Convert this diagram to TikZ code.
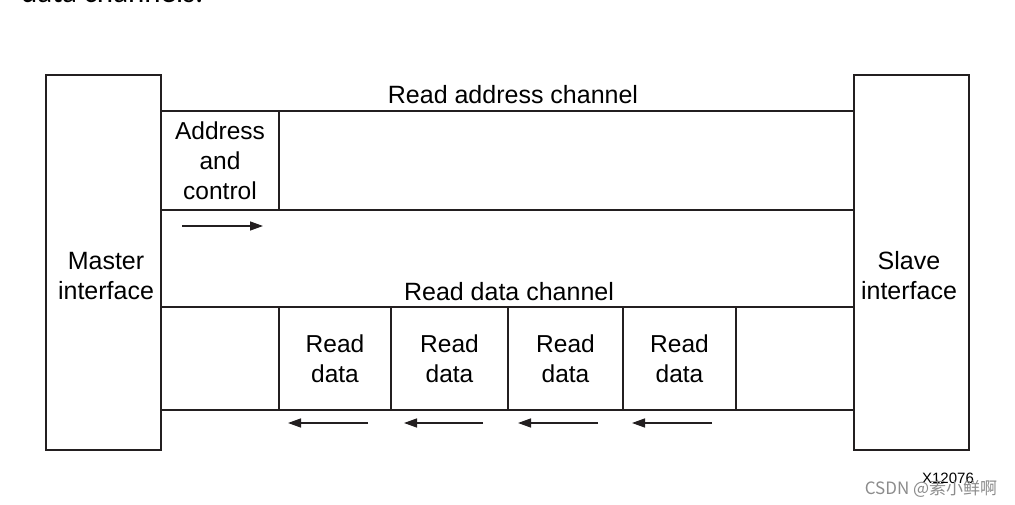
\documentclass[tikz,border=0pt]{standalone}
\usepackage{fontspec}
\setmainfont{Liberation Sans}
\newfontfamily\bodyfont{Carlito}
\newfontfamily\cjkfont{Noto Sans CJK SC}
\usetikzlibrary{arrows.meta}
\definecolor{ink}{HTML}{231F20}
\tikzset{
  frame/.style={draw=ink, line width=2.8pt, inner sep=0pt, outer sep=0pt},
  iface/.style={frame, fill=white, minimum width=115pt, minimum height=375pt},
  ifacetext/.style={align=center, inner sep=0pt, font=\fontsize{25}{30}\selectfont},
  celltext/.style={align=center, inner sep=0pt, font=\fontsize{24.5}{30}\selectfont},
  chline/.style={draw=ink, line width=2.8pt},
  flow/.style={draw=ink, line width=1.4pt, -{Stealth[length=13pt,width=9pt,inset=0pt]}},
  chlabel/.style={font=\fontsize{25}{30}\selectfont, inner sep=0pt, anchor=base}
}
\begin{document}
\begin{tikzpicture}[x=1pt,y=-1pt]
\useasboundingbox[fill=white] (0,0) rectangle (1015,505);
% cut-off line of body text at top
\node[font=\bodyfont\fontsize{31}{36}\selectfont, anchor=base west, inner sep=0pt] (toptext) at (21,3) {data channels.};
% channel lines
\draw[chline] (161,111) -- (854,111);
\draw[chline] (161,210) -- (854,210);
\draw[chline] (161,307) -- (854,307);
\draw[chline] (161,410) -- (854,410);
% cell dividers
\draw[chline] (279,111) -- (279,210);
\foreach \x in {279,391,508,623,736} \draw[chline] (\x,307) -- (\x,410);
% interfaces
\node[iface] (master) at (103.5,262.5) {};
\node[ifacetext] (mtext) at (106,276) {Master\\interface};
\node[iface] (slave) at (911.5,262.5) {};
\node[ifacetext] (stext) at (909,276) {Slave\\interface};
% cell texts
\node[celltext] (addr) at (220,160.5) {Address\\and\\control};
\node[celltext] (rd1) at (335,359) {Read\\data};
\node[celltext] (rd2) at (449.5,359) {Read\\data};
\node[celltext] (rd3) at (565.5,359) {Read\\data};
\node[celltext] (rd4) at (679.5,359) {Read\\data};
% channel labels
\node[chlabel] (rach) at (513,104) {Read address channel};
\node[chlabel] (rdch) at (509,300) {Read data channel};
% flow arrows
\coordinate (a0) at (182,226); \coordinate (a1) at (263,226);
\draw[flow] (a0) -- (a1);
\coordinate (d1s) at (368,423); \coordinate (d1e) at (288,423);
\coordinate (d2s) at (483,423); \coordinate (d2e) at (404,423);
\coordinate (d3s) at (598,423); \coordinate (d3e) at (518,423);
\coordinate (d4s) at (712,423); \coordinate (d4e) at (632,423);
\draw[flow] (d1s) -- (d1e);
\draw[flow] (d2s) -- (d2e);
\draw[flow] (d3s) -- (d3e);
\draw[flow] (d4s) -- (d4e);
% figure id and watermark
\node[font=\fontsize{15}{18}\selectfont, anchor=base, inner sep=0pt] (figid) at (948,483) {X12076};
\node[font=\cjkfont\fontsize{17}{18}\selectfont, text=black!45, anchor=base, inner sep=0pt] (wm) at (931,494) {CSDN @素小鲜啊};
\end{tikzpicture}
\end{document}
